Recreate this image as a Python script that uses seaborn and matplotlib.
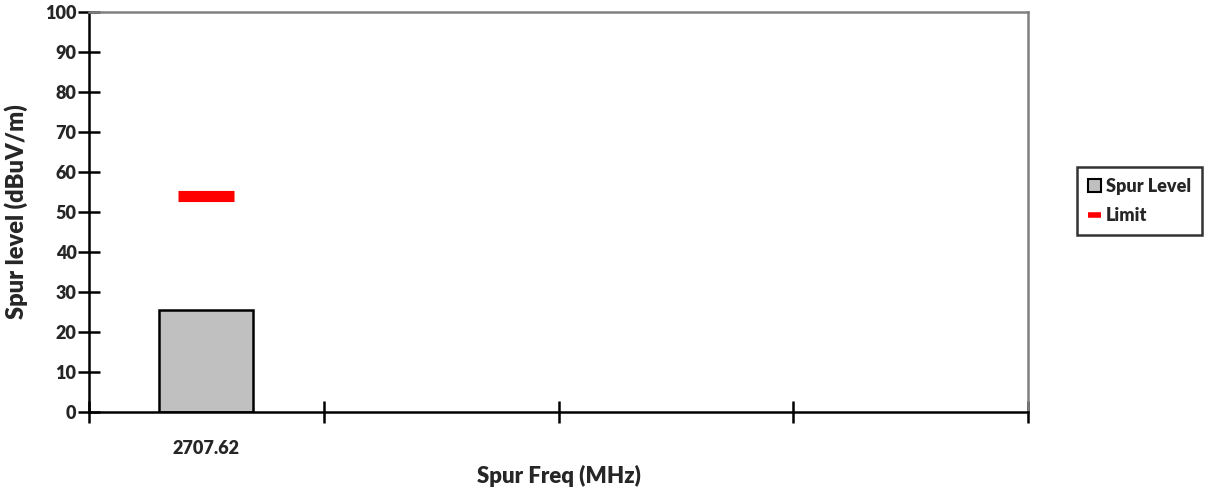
import numpy as np
import pandas as pd
import matplotlib
matplotlib.use("Agg")
import matplotlib.pyplot as plt
import seaborn as sns
from matplotlib.lines import Line2D
from matplotlib.patches import Patch

# --- DATA ---
freq_labels = ["2707.62"]
spur_level = [25.5]
limit_level = [54.0]
n_slots = 4
y_ticks = list(range(0, 101, 10))

sns.set_style("white")
plt.rcParams['font.family'] = ['Lato', 'DejaVu Sans']
plt.rcParams['font.weight'] = 'heavy'

df = pd.DataFrame({"freq": freq_labels, "spur": spur_level, "limit": limit_level})
df["pos"] = np.arange(len(df))

fig = plt.figure(figsize=(12.08, 4.95), dpi=100)
ax = fig.add_axes([89 / 1208, 83 / 495, (1028 - 89) / 1208, 400 / 495])

# bars
sns.barplot(data=df, x="pos", y="spur", order=list(range(n_slots)), color="#C0C0C0",
            width=0.4, edgecolor="black", linewidth=1.8, saturation=1, ax=ax)
# limit dash
sns.scatterplot(data=df, x="pos", y="limit", marker="_", s=1600, linewidth=8,
                color="#FF0000", ax=ax, zorder=5)

ax.set_xlim(-0.5, n_slots - 0.5)
ax.set_ylim(0, 100)
ax.set_yticks(y_ticks)
ax.set_yticklabels([str(v) for v in y_ticks], fontsize=13, fontweight="heavy")

ax.set_xticks(np.arange(n_slots + 1) - 0.5)
ax.set_xticklabels([])
ax.set_xticks(df["pos"], minor=True)
ax.set_xticklabels(freq_labels, minor=True, fontsize=13, fontweight="heavy")
ax.tick_params(axis="x", which="minor", bottom=False, length=0, pad=20)
ax.tick_params(axis="x", which="major", bottom=True, direction="inout", length=16,
               width=1.8, color="black")
ax.tick_params(axis="y", left=True, direction="inout", length=16, width=1.8,
               color="black", pad=1)

ax.set_xlabel("Spur Freq (MHz)", fontsize=16, fontweight="heavy", labelpad=6)
ax.set_ylabel("Spur level (dBuV/m)", fontsize=17, fontweight="heavy", labelpad=12)

for side in ["left", "bottom"]:
    ax.spines[side].set_color("black")
    ax.spines[side].set_linewidth(1.8)
for side in ["top", "right"]:
    ax.spines[side].set_color("#808080")
    ax.spines[side].set_linewidth(1.8)

handles = [
    Patch(facecolor="#C0C0C0", edgecolor="black", linewidth=1.5, label="Spur Level"),
    Line2D([0], [0], color="#FF0000", linewidth=4, solid_capstyle="butt", label="Limit"),
]
leg = fig.legend(handles=handles, loc="center left", bbox_to_anchor=(1077 / 1208, 1 - 201 / 495),
                 frameon=True, fancybox=False, edgecolor="black",
                 handlelength=0.75, handleheight=0.75, handletextpad=0.25, borderpad=0.6,
                 labelspacing=0.7, borderaxespad=0, prop={"weight": "heavy", "size": 13})
leg.get_frame().set_linewidth(1.8)

fig.savefig("out.png", dpi=100)
